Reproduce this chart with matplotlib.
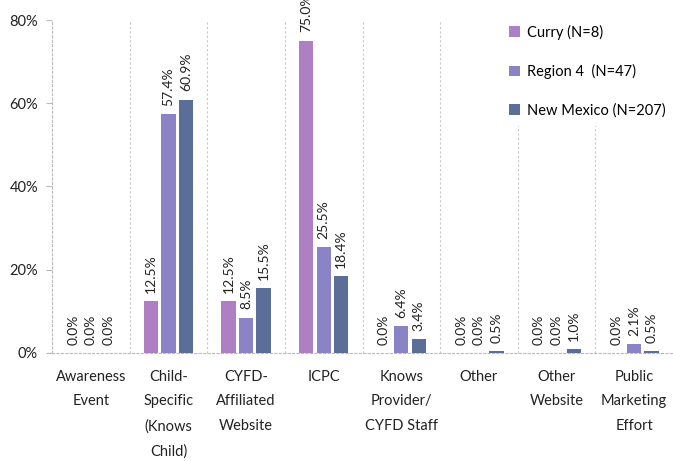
import matplotlib
matplotlib.use("Agg")
import matplotlib.pyplot as plt
import numpy as np
from matplotlib.patches import Patch

categories = ["Awareness\nEvent", "Child-\nSpecific\n(Knows\nChild)", "CYFD-\nAffiliated\nWebsite", "ICPC",
              "Knows\nProvider/\nCYFD Staff", "Other", "Other\nWebsite", "Public\nMarketing\nEffort"]
series_names = ["Curry (N=8)", "Region 4  (N=47)", "New Mexico (N=207)"]
curry = [0.0, 12.5, 12.5, 75.0, 0.0, 0.0, 0.0, 0.0]
region4 = [0.0, 57.4, 8.5, 25.5, 6.4, 0.0, 0.0, 2.1]
new_mexico = [0.0, 60.9, 15.5, 18.4, 3.4, 0.5, 1.0, 0.5]
colors = ["#AF7FC4", "#8A84C6", "#5B6E98"]
yticks = [0, 20, 40, 60, 80]

plt.rcParams['font.family'] = ['Lato', 'DejaVu Sans']

fig = plt.figure(figsize=(6.73, 4.62), dpi=100)
ax = fig.add_axes([52/673, 1-353/462, 1-52/673, (353-20)/462])

x = np.arange(len(categories))
w = 0.185
gap = 0.04
offsets = [-(w+gap), 0, (w+gap)]
for vals, off, c in zip([curry, region4, new_mexico], offsets, colors):
    ax.bar(x + off, vals, width=w, color=c, zorder=3)
    for xi, v in zip(x + off, vals):
        ax.annotate(f"{v:.1f}%", (xi, v), xytext=(0, 6), textcoords="offset points",
                    rotation=90, ha="center", va="bottom", fontsize=10, color="#222222",
                    annotation_clip=False)

ax.set_xlim(-0.5, len(categories) - 0.5)
ax.set_ylim(0, 80)
ax.set_yticks(yticks)
ax.set_yticklabels([f"{t}%" for t in yticks], fontsize=10.5, color="#222222")
ax.set_xticks(x)
ax.set_xticklabels(categories, fontsize=10.5, color="#222222", linespacing=1.95, va="top")
ax.tick_params(axis="x", length=0, pad=12)
ax.tick_params(axis="y", length=4, color="#BBBBBB", pad=6)

ax.set_xticks(np.arange(0.5, len(categories) - 0.5, 1), minor=True)
ax.tick_params(axis="x", which="minor", length=0)
ax.grid(True, axis="x", which="minor", linestyle=(0, (2, 2)), color="#C8C8C8", linewidth=0.8, zorder=0)

for s in ["top", "right"]:
    ax.spines[s].set_visible(False)
for s in ["left", "bottom"]:
    ax.spines[s].set_linestyle((0, (2, 2)))
    ax.spines[s].set_color("#BBBBBB")
    ax.spines[s].set_linewidth(0.8)

handles = [Patch(facecolor=c, edgecolor="none") for c in colors]
leg = fig.legend(handles, series_names, loc="upper left", bbox_to_anchor=(500/673, 1 - 16/462),
                 frameon=True, fontsize=10.5, handlelength=0.75, handleheight=0.75, handletextpad=0.5,
                 labelspacing=1.65, borderpad=0.6, borderaxespad=0)
leg.get_frame().set_facecolor("white")
leg.get_frame().set_edgecolor("none")
leg.get_frame().set_alpha(1)
leg.set_zorder(10)

fig.savefig("out.png", dpi=100)
